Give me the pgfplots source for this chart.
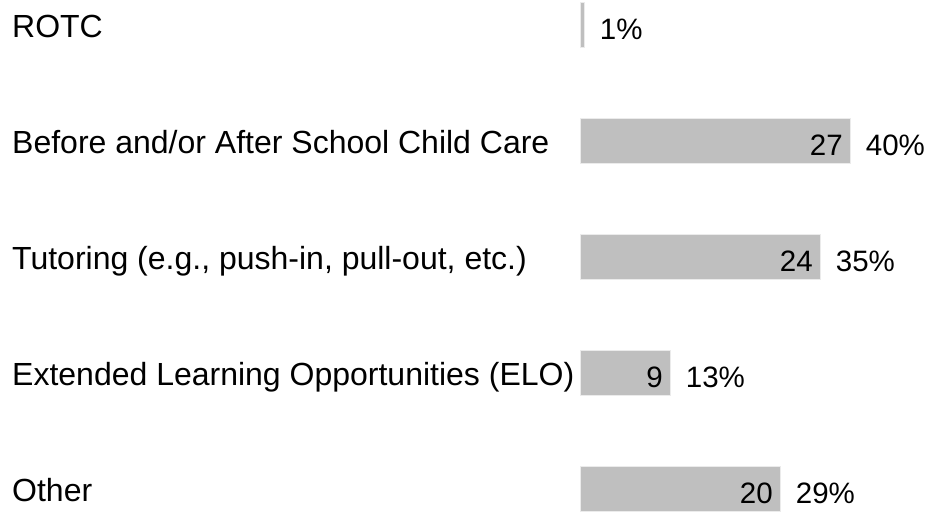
\documentclass[border=0pt]{standalone}
\usepackage{fontspec}
\setmainfont{Liberation Sans}
\usepackage{pgfplots}
\pgfplotsset{compat=1.18}
\newcommand{\bigf}{\fontsize{32}{38}\selectfont}
\newcommand{\numf}{\fontsize{29.5}{35}\selectfont}
\begin{document}
\begin{tikzpicture}[x=1pt,y=1pt]
\useasboundingbox (0,0) rectangle (932,512);
\begin{axis}[
  at={(580.7pt,0pt)}, anchor=south west,
  scale only axis, width=351.3pt, height=512pt,
  xmin=0, xmax=35.13, ymin=-0.198, ymax=4.219,
  axis x line=none,
  axis y line*=left,
  y axis line style={draw=none},
  major tick length=0pt,
  ytick={0,1,2,3,4},
  yticklabels={Other, Extended Learning Opportunities (ELO), {Tutoring (e.g., push-in, pull-out, etc.)}, Before and/or After School Child Care, ROTC},
  yticklabel style={font=\bigf, anchor=base west, inner sep=0pt, xshift=-568.7pt, yshift=-12.5pt},
  clip=false,
  xbar, bar width=45pt, bar shift=0pt,
]
\addplot[fill=black!25, draw=black!8, line width=0.8pt,
  nodes near coords={\pgfplotspointmeta},
  point meta=explicit symbolic,
  every node near coord/.style={font=\numf, anchor=base east, inner sep=0pt, xshift=-7.5pt, yshift=-14pt, black}]
  coordinates {(20,0) [20] (9,1) [9] (24,2) [24] (27,3) [27]};
\addplot[fill=black!25, draw=black!8, line width=0.8pt]
  coordinates {(0.4,4)};
\addplot[draw=none, fill=none,
  nodes near coords={\pgfplotspointmeta},
  point meta=explicit symbolic,
  every node near coord/.style={font=\numf, anchor=base west, inner sep=0pt, xshift=15pt, yshift=-14pt, black}]
  coordinates {(20,0) [29\%] (9,1) [13\%] (24,2) [35\%] (27,3) [40\%] (0.4,4) [1\%]};
\end{axis}
\end{tikzpicture}
\end{document}
